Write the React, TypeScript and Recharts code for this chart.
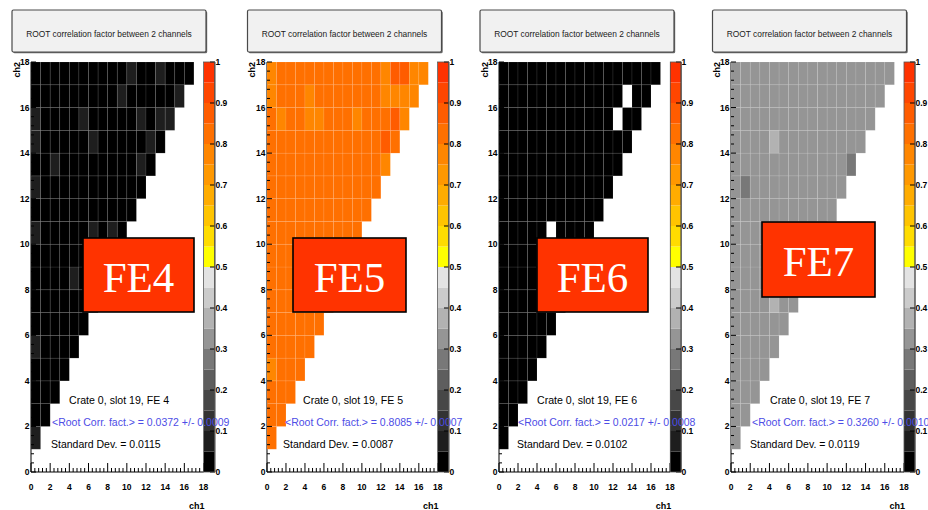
import React from 'react';
import { ScatterChart, Scatter, XAxis, YAxis, BarChart, Bar } from 'recharts';

// ---------- data ----------

// channel axes (ch1 horizontal, ch2 vertical)
const CHANNEL_DOMAIN: [number, number] = [0, 18];
const CHANNEL_LABELS = [0, 2, 4, 6, 8, 10, 12, 14, 16, 18];
const CHANNEL_MINOR_STEP = 0.4;

// colour palette: 20 bands of 0.05 from 0 to 1
const PALETTE = [
  '#000000', '#1e1e1e', '#333333', '#474747', '#5e5e5e',
  '#787878', '#959595', '#b2b2b2', '#cbcbcb', '#e3e3e3',
  '#ffff00', '#ffdc00', '#ffc400', '#ffac00', '#ff9800',
  '#ff8600', '#ff7000', '#ff5c00', '#ff4600', '#ff3200',
];
const PALETTE_EDGES = [
  0, 0.05, 0.1, 0.15, 0.2, 0.25, 0.3, 0.35, 0.4, 0.45, 0.5,
  0.55, 0.6, 0.65, 0.7, 0.75, 0.8, 0.85, 0.9, 0.95, 1,
];
const PALETTE_LABELS = [0, 0.1, 0.2, 0.3, 0.4, 0.5, 0.6, 0.7, 0.8, 0.9, 1];

// correlation factor per (ch1, ch2) bin; row r holds ch2 = r + 1, entries are ch1 = 0 .. ch2 - 1
const FE4_ROWS: (number | null)[][] = [
  [0.064],
  [0.034, 0.029],
  [0.037, 0.031, 0.040],
  [0.033, 0.038, 0.027, 0.035],
  [0.066, 0.032, 0.036, 0.030, 0.039],
  [0.035, 0.041, 0.028, 0.033, 0.037, 0.031],
  [0.030, 0.036, 0.034, 0.039, 0.029, 0.035, 0.032],
  [0.038, 0.031, 0.035, 0.027, 0.061, 0.036, 0.033, 0.030],
  [0.032, 0.037, 0.030, 0.034, 0.038, 0.029, 0.035, 0.031, 0.036],
  [0.063, 0.030, 0.036, 0.033, 0.028, 0.037, 0.058, 0.032, 0.060, 0.034],
  [0.036, 0.033, 0.029, 0.038, 0.031, 0.035, 0.030, 0.037, 0.032, 0.028, 0.034],
  [0.067, 0.031, 0.037, 0.030, 0.035, 0.039, 0.028, 0.033, 0.036, 0.030, 0.034, 0.031],
  [0.034, 0.029, 0.059, 0.036, 0.031, 0.037, 0.033, 0.028, 0.035, 0.032, 0.038, 0.062, 0.030],
  [0.065, 0.033, 0.030, 0.036, 0.039, 0.031, 0.057, 0.034, 0.029, 0.037, 0.032, 0.035, 0.060, 0.033],
  [0.061, 0.035, 0.032, 0.028, 0.037, 0.058, 0.033, 0.030, 0.036, 0.031, 0.034, 0.063, 0.029, 0.059, 0.064],
  [0.033, 0.030, 0.036, 0.032, 0.038, 0.029, 0.035, 0.031, 0.037, 0.062, 0.034, 0.030, 0.036, 0.033, 0.028, 0.060],
  [0.036, 0.031, 0.034, 0.029, 0.037, 0.032, 0.035, 0.030, 0.038, 0.033, 0.061, 0.029, 0.034, 0.064, 0.031, 0.036, 0.033],
];

const FE5_ROWS: (number | null)[][] = [
  [0.812],
  [0.808, 0.815],
  [0.811, 0.806, 0.818],
  [0.784, 0.813, 0.809, 0.816],
  [0.810, 0.817, 0.805, 0.812, 0.808],
  [0.814, 0.809, 0.816, 0.811, 0.807, 0.813],
  [0.809, 0.815, 0.812, 0.806, 0.818, 0.810, 0.814],
  [0.816, 0.811, 0.807, 0.813, 0.809, 0.815, 0.812, 0.808],
  [0.812, 0.808, 0.815, 0.810, 0.817, 0.806, 0.813, 0.811, 0.809],
  [0.810, 0.814, 0.809, 0.816, 0.812, 0.807, 0.815, 0.811, 0.813, 0.808],
  [0.815, 0.810, 0.813, 0.808, 0.811, 0.817, 0.809, 0.814, 0.806, 0.812, 0.810],
  [0.811, 0.816, 0.807, 0.813, 0.810, 0.814, 0.808, 0.812, 0.815, 0.809, 0.813, 0.811],
  [0.808, 0.813, 0.811, 0.815, 0.809, 0.812, 0.816, 0.807, 0.813, 0.810, 0.814, 0.811, 0.782],
  [0.813, 0.809, 0.815, 0.811, 0.808, 0.814, 0.810, 0.816, 0.812, 0.807, 0.813, 0.809, 0.862, 0.836],
  [0.812, 0.779, 0.810, 0.814, 0.776, 0.781, 0.813, 0.809, 0.815, 0.783, 0.811, 0.808, 0.814, 0.858, 0.780],
  [0.785, 0.811, 0.807, 0.814, 0.778, 0.812, 0.809, 0.815, 0.810, 0.813, 0.808, 0.812, 0.782, 0.779, 0.786, 0.781],
  [0.787, 0.813, 0.809, 0.815, 0.811, 0.808, 0.814, 0.810, 0.812, 0.816, 0.809, 0.813, 0.780, 0.864, 0.861, 0.784, 0.779],
];

const FE6_ROWS: (number | null)[][] = [
  [0.024],
  [0.019, 0.027],
  [0.022, 0.031, 0.017],
  [0.026, 0.018, 0.023, 0.029],
  [0.021, 0.028, 0.016, 0.024, 0.020],
  [0.025, 0.019, 0.030, 0.022, 0.027, 0.018],
  [0.020, 0.026, 0.023, 0.017, 0.029, 0.021, 0.024],
  [0.027, 0.022, 0.018, 0.025, 0.020, 0.031, 0.016, 0.023],
  [0.019, 0.024, 0.028, 0.021, 0.017, 0.026, 0.022, 0.030, 0.018],
  [0.023, 0.018, 0.025, 0.020, 0.027, null, 0.021, 0.029, 0.016, 0.024],
  [0.026, 0.021, 0.017, 0.028, 0.022, 0.019, 0.025, 0.020, 0.030, 0.023, 0.018],
  [0.018, 0.027, 0.022, 0.016, 0.024, 0.029, 0.020, 0.026, 0.019, 0.023, 0.028, 0.021],
  [0.024, 0.019, 0.026, 0.022, 0.031, 0.017, 0.023, 0.028, 0.020, 0.025, 0.018, 0.027, 0.022],
  [0.021, 0.028, 0.018, 0.025, 0.020, 0.024, 0.030, 0.017, 0.026, 0.022, 0.019, 0.027, 0.023, 0.020],
  [0.027, 0.020, 0.024, 0.019, 0.029, 0.022, 0.018, 0.025, 0.021, 0.028, 0.016, 0.023, null, 0.026, 0.019],
  [0.019, 0.025, 0.021, 0.028, 0.017, 0.023, 0.026, 0.020, 0.024, 0.018, 0.029, 0.022, 0.025, null, 0.021, 0.027],
  [0.023, 0.018, 0.027, 0.020, 0.025, 0.022, 0.019, 0.028, 0.021, 0.024, 0.017, 0.026, 0.020, 0.029, 0.022, 0.018, 0.025],
];

const FE7_ROWS: (number | null)[][] = [
  [0.327],
  [0.322, 0.331],
  [0.329, 0.318, 0.334],
  [0.325, 0.331, 0.320, 0.328],
  [0.333, 0.321, 0.327, 0.330, 0.319],
  [0.324, 0.332, 0.318, 0.326, 0.335, 0.322],
  [0.330, 0.323, 0.328, 0.321, 0.376, 0.327, 0.331],
  [0.319, 0.328, 0.333, 0.325, 0.320, 0.331, 0.326, 0.322],
  [0.327, 0.321, 0.324, 0.332, 0.328, 0.318, 0.330, 0.325, 0.329],
  [0.323, 0.330, 0.326, 0.319, 0.334, 0.327, 0.321, 0.328, 0.324, 0.331],
  [0.331, 0.325, 0.320, 0.329, 0.323, 0.332, 0.326, 0.318, 0.330, 0.327, 0.322],
  [0.326, 0.283, 0.330, 0.324, 0.328, 0.321, 0.333, 0.327, 0.319, 0.325, 0.331, 0.323],
  [0.320, 0.329, 0.325, 0.331, 0.318, 0.327, 0.322, 0.334, 0.326, 0.321, 0.328, 0.324, 0.278],
  [0.328, 0.322, 0.331, 0.326, 0.381, 0.320, 0.329, 0.325, 0.332, 0.319, 0.327, 0.330, 0.323, 0.326],
  [0.325, 0.330, 0.321, 0.327, 0.324, 0.333, 0.318, 0.328, 0.322, 0.331, 0.326, 0.320, 0.329, 0.323, 0.327],
  [0.330, 0.324, 0.327, 0.319, 0.332, 0.326, 0.321, 0.329, 0.325, 0.334, 0.322, 0.328, 0.320, 0.331, 0.324, 0.327],
  [0.322, 0.328, 0.325, 0.331, 0.320, 0.327, 0.333, 0.324, 0.329, 0.318, 0.326, 0.330, 0.323, 0.328, 0.321, 0.332, 0.326],
];

const TITLE = 'ROOT correlation factor between 2 channels';
const FE_NAMES = ['FE4', 'FE5', 'FE6', 'FE7'];
const CRATE_LINES = ['Crate 0, slot 19, FE 4', 'Crate 0, slot 19, FE 5', 'Crate 0, slot 19, FE 6', 'Crate 0, slot 19, FE 7'];
const MEAN_LINES = [
  '<Root Corr. fact.> = 0.0372 +/- 0.0009',
  '<Root Corr. fact.> = 0.8085 +/- 0.0007',
  '<Root Corr. fact.> = 0.0217 +/- 0.0008',
  '<Root Corr. fact.> = 0.3260 +/- 0.0010',
];
const STDDEV_LINES = ['Standard Dev. = 0.0115', 'Standard Dev. = 0.0087', 'Standard Dev. = 0.0102', 'Standard Dev. = 0.0119'];

// ---------- layout ----------

const PAGE_W = 928;
const PAGE_H = 510;
const PLOT_TOP = 62;
const PLOT_BOTTOM = 472;
const Y_AXIS_W = 30;
const RIGHT_PAD = 8;
const BAR_W = 11;
const BAR_AXIS_W = 20;

const FONT = '"Liberation Sans", Arial, Helvetica, sans-serif';
const SERIF = '"Liberation Serif", "Times New Roman", Times, serif';
const STAT_BLUE = '#4d4de6';

type PanelLayout = {
  plotLeft: number;
  plotRight: number;
  titleLeft: number;
  box: { x: number; y: number; w: number; h: number };
  crateX: number;
  meanX: number;
  stdX: number;
};

const LAYOUTS: PanelLayout[] = [
  { plotLeft: 31, plotRight: 203.5, titleLeft: 12, box: { x: 83, y: 238, w: 111, h: 74 }, crateX: 69, meanX: 52, stdX: 51 },
  { plotLeft: 266.7, plotRight: 437.5, titleLeft: 247.5, box: { x: 293, y: 238, w: 113, h: 74 }, crateX: 303, meanX: 285, stdX: 283 },
  { plotLeft: 499.3, plotRight: 670.3, titleLeft: 480, box: { x: 537, y: 238, w: 111, h: 74 }, crateX: 537, meanX: 518, stdX: 517 },
  { plotLeft: 731, plotRight: 904, titleLeft: 712.5, box: { x: 762, y: 222, w: 113, h: 75 }, crateX: 770, meanX: 752, stdX: 750 },
];

const PANEL_ROWS = [FE4_ROWS, FE5_ROWS, FE6_ROWS, FE7_ROWS];

// ---------- helpers ----------

const CHANNEL_TICKS: number[] = [];
for (let t = 0; t <= CHANNEL_DOMAIN[1] / CHANNEL_MINOR_STEP + 1e-9; t++) {
  CHANNEL_TICKS.push(Number((t * CHANNEL_MINOR_STEP).toFixed(1)));
}

const isMajor = (v: number) => CHANNEL_LABELS.some((l) => Math.abs(l - v) < 1e-6);

const bandColor = (v: number) => {
  let k = 0;
  while (k < PALETTE.length - 1 && v >= PALETTE_EDGES[k + 1]) k++;
  return PALETTE[k];
};

type Cell = { x: number; y: number; v: number };

const toCells = (rows: (number | null)[][]): Cell[] => {
  const out: Cell[] = [];
  rows.forEach((row, r) => {
    row.forEach((v, i) => {
      if (v != null) out.push({ x: i + 0.5, y: r + 1 + 0.5, v });
    });
  });
  return out;
};

const PALETTE_ROW: Record<string, number | string> = { name: 'z' };
PALETTE.forEach((_, k) => {
  PALETTE_ROW[`b${k}`] = PALETTE_EDGES[k + 1] - PALETTE_EDGES[k];
});

const makeCellShape = (cw: number, ch: number) => (props: any) => {
  const { cx, cy, payload } = props;
  if (cx == null || cy == null || !payload) return <g />;
  return (
    <rect
      x={cx - cw / 2}
      y={cy - ch / 2}
      width={cw}
      height={ch}
      fill={bandColor(payload.v)}
      stroke="rgba(255,255,255,0.13)"
      strokeWidth={0.7}
    />
  );
};

function ChannelXTick(props: any) {
  const { x, y, payload } = props;
  const v = payload.value;
  const major = isMajor(v);
  return (
    <g>
      <line x1={x} x2={x} y1={y} y2={y - (major ? 9 : 4)} stroke="#000" strokeWidth={1} />
      {major && (
        <text x={x} y={y + 18} textAnchor="middle" fontSize={8.5} fontWeight="bold" fontFamily={FONT} fill="#000">
          {v}
        </text>
      )}
    </g>
  );
}

function ChannelYTick(props: any) {
  const { x, y, payload } = props;
  const v = payload.value;
  const major = isMajor(v);
  return (
    <g>
      <line x1={x} x2={x + (major ? 5 : 3)} y1={y} y2={y} stroke="#000" strokeWidth={1} />
      {major && (
        <text x={x - 1.5} y={y + 3} textAnchor="end" fontSize={8.5} fontWeight="bold" fontFamily={FONT} fill="#000">
          {v}
        </text>
      )}
    </g>
  );
}

function PaletteTick(props: any) {
  const { x, y, payload } = props;
  const v: number = payload.value;
  const label = v === 0 || v === 1 ? String(v) : v.toFixed(1);
  return (
    <g>
      <line x1={x} x2={x - 5} y1={y} y2={y} stroke="#000" strokeWidth={1} />
      <text x={x + 0.5} y={y + 3} textAnchor="start" fontSize={8.5} fontWeight="bold" fontFamily={FONT} fill="#000">
        {label}
      </text>
    </g>
  );
}

// ---------- components ----------

function HeatPanel({ layout, rows }: { layout: PanelLayout; rows: (number | null)[][] }) {
  const plotW = layout.plotRight - layout.plotLeft;
  const cw = plotW / (CHANNEL_DOMAIN[1] - CHANNEL_DOMAIN[0]);
  const ch = (PLOT_BOTTOM - PLOT_TOP) / (CHANNEL_DOMAIN[1] - CHANNEL_DOMAIN[0]);
  const cells = toCells(rows);
  return (
    <div style={{ position: 'absolute', left: layout.plotLeft - Y_AXIS_W, top: 0 }}>
      <ScatterChart
        width={Y_AXIS_W + plotW + RIGHT_PAD}
        height={PAGE_H}
        margin={{ top: PLOT_TOP, right: RIGHT_PAD, bottom: 0, left: 0 }}
      >
        <Scatter data={cells} dataKey="y" isAnimationActive={false} shape={makeCellShape(cw, ch)} />
        <XAxis
          type="number"
          dataKey="x"
          domain={CHANNEL_DOMAIN}
          ticks={CHANNEL_TICKS}
          interval={0}
          allowDataOverflow
          height={PAGE_H - PLOT_BOTTOM}
          tickSize={0}
          tickMargin={0}
          tickLine={false}
          axisLine={{ stroke: '#000', strokeWidth: 1 }}
          tick={ChannelXTick}
        />
        <YAxis
          type="number"
          dataKey="y"
          domain={CHANNEL_DOMAIN}
          ticks={CHANNEL_TICKS}
          interval={0}
          allowDataOverflow
          width={Y_AXIS_W}
          tickSize={0}
          tickMargin={0}
          tickLine={false}
          axisLine={{ stroke: '#000', strokeWidth: 1 }}
          tick={ChannelYTick}
        />
      </ScatterChart>
    </div>
  );
}

function PaletteBar({ layout }: { layout: PanelLayout }) {
  return (
    <div style={{ position: 'absolute', left: layout.plotRight, top: 0 }}>
      <BarChart
        width={BAR_W + BAR_AXIS_W}
        height={PAGE_H}
        data={[PALETTE_ROW]}
        margin={{ top: PLOT_TOP, right: 0, bottom: PAGE_H - PLOT_BOTTOM, left: 0 }}
        barCategoryGap={0}
        barGap={0}
      >
        <XAxis dataKey="name" hide />
        <YAxis
          orientation="right"
          type="number"
          domain={[0, 1]}
          allowDataOverflow
          ticks={PALETTE_LABELS}
          interval={0}
          width={BAR_AXIS_W}
          tickSize={0}
          tickMargin={0}
          tickLine={false}
          axisLine={{ stroke: '#444', strokeWidth: 1 }}
          tick={PaletteTick}
        />
        {PALETTE.map((c, k) => (
          <Bar key={k} dataKey={`b${k}`} stackId="pal" fill={c} isAnimationActive={false} />
        ))}
      </BarChart>
    </div>
  );
}

function PanelOverlay({ layout, index }: { layout: PanelLayout; index: number }) {
  const b = layout.box;
  return (
    <g>
      {/* title pave */}
      <rect x={layout.titleLeft + 1.2} y={11.2} width={194} height={42} fill="#6a6a6a" rx={1.5} />
      <rect x={layout.titleLeft} y={10} width={194} height={42} fill="#f1f1f1" stroke="#4a4a4a" strokeWidth={1.2} rx={1.5} />
      <text x={layout.titleLeft + 97} y={36.7} textAnchor="middle" fontSize={8.4} fontFamily={FONT} fill="#1a1a1a">
        {TITLE}
      </text>

      {/* statistics */}
      <text x={layout.crateX} y={403.8} fontSize={10.6} fontFamily={FONT} fill="#000">
        {CRATE_LINES[index]}
      </text>
      <text x={layout.meanX} y={425.8} fontSize={10.5} fontFamily={FONT} fill={STAT_BLUE}>
        {MEAN_LINES[index]}
      </text>
      <text x={layout.stdX} y={447.8} fontSize={10.5} fontFamily={FONT} fill="#000">
        {STDDEV_LINES[index]}
      </text>

      {/* axis titles */}
      <text x={layout.plotRight + 1} y={509} textAnchor="end" fontSize={9} fontWeight="bold" fontFamily={FONT} fill="#000">
        ch1
      </text>
      <text
        transform={`translate(${layout.plotLeft - 11.5}, ${PLOT_TOP}) rotate(-90)`}
        textAnchor="end"
        fontSize={9}
        fontWeight="bold"
        fontFamily={FONT}
        fill="#000"
      >
        ch2
      </text>

      {/* palette frame */}
      <rect x={layout.plotRight} y={PLOT_TOP} width={BAR_W} height={PLOT_BOTTOM - PLOT_TOP} fill="none" stroke="#555" strokeWidth={0.8} />

      {/* front-end tag */}
      <rect x={b.x} y={b.y} width={b.w} height={b.h} fill="#ff3300" stroke="#000" strokeWidth={1.6} />
      <text x={b.x + b.w / 2} y={b.y + 54} textAnchor="middle" fontSize={43} fontFamily={SERIF} fill="#ffffff">
        {FE_NAMES[index]}
      </text>
    </g>
  );
}

export default function App() {
  return (
    <div
      style={{
        position: 'absolute',
        left: 0,
        top: 0,
        width: PAGE_W,
        height: PAGE_H,
        background: '#ffffff',
        overflow: 'hidden',
        fontFamily: FONT,
      }}
    >
      {LAYOUTS.map((layout, i) => (
        <HeatPanel key={`h${i}`} layout={layout} rows={PANEL_ROWS[i]} />
      ))}
      {LAYOUTS.map((layout, i) => (
        <PaletteBar key={`p${i}`} layout={layout} />
      ))}
      <svg
        width={PAGE_W}
        height={PAGE_H}
        style={{ position: 'absolute', left: 0, top: 0, pointerEvents: 'none' }}
      >
        {LAYOUTS.map((layout, i) => (
          <PanelOverlay key={`o${i}`} layout={layout} index={i} />
        ))}
      </svg>
    </div>
  );
}
